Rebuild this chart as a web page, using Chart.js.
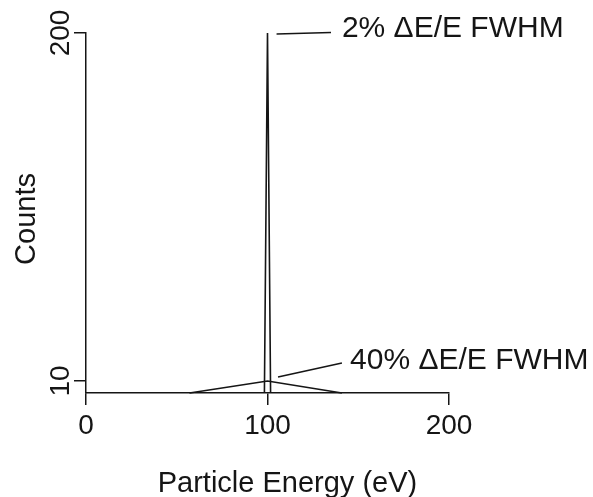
<!DOCTYPE html>
<html>
<head>
<meta charset="utf-8">
<script src="https://cdn.jsdelivr.net/npm/chart.js@4"></script>
<style>
  html, body { margin: 0; padding: 0; background: #fff; }
  canvas { display: block; }
</style>
</head>
<body>
<canvas id="chart" width="593" height="497"></canvas>
<script>
// energy axis (eV) and counts for the two peaks
const narrowEnergy = [98.3, 100, 101.7];
const narrowCounts = [3.45, 200, 3.45];
const broadEnergy = [57, 100, 141];
const broadCounts = [3.45, 10, 3.45];

const xTicks = [0, 100, 200];
const yTicks = [10, 200];

const xTitle = "Particle Energy (eV)";
const yTitle = "Counts";

// annotation labels with leader lines, in data units
const notes = [
  { text: "2% \u0394E/E FWHM", x: 141, y: 197.8, from: [105, 199.5], to: [135, 200.3] },
  { text: "40% \u0394E/E FWHM", x: 145.5, y: 16.5, from: [105.8, 12.2], to: [141, 19.8] },
];

const ink = "#151515";
const font = "'Liberation Sans', Arial, sans-serif";

const toPoints = (xs, ys) => xs.map((x, i) => ({ x: x, y: ys[i] }));

const textPlugin = {
  id: "textPlugin",
  afterDraw(chart) {
    const ctx = chart.ctx;
    const xs = chart.scales.x;
    const ys = chart.scales.y;
    ctx.save();
    ctx.fillStyle = ink;
    ctx.strokeStyle = ink;

    // rotated y tick labels
    ctx.font = `28px ${font}`;
    ctx.textAlign = "center";
    ctx.textBaseline = "alphabetic";
    yTicks.forEach((v) => {
      ctx.save();
      ctx.translate(69, ys.getPixelForValue(v));
      ctx.rotate(-Math.PI / 2);
      ctx.fillText(String(v), 0, 0);
      ctx.restore();
    });

    // axis titles
    ctx.font = `29px ${font}`;
    ctx.fillText(xTitle, xs.getPixelForValue(111), 492);
    ctx.save();
    ctx.translate(35, 219);
    ctx.rotate(-Math.PI / 2);
    ctx.fillText(yTitle, 0, 0);
    ctx.restore();

    // annotations
    ctx.font = `30px ${font}`;
    ctx.textAlign = "left";
    ctx.lineWidth = 1.5;
    notes.forEach((n) => {
      ctx.beginPath();
      ctx.moveTo(xs.getPixelForValue(n.from[0]), ys.getPixelForValue(n.from[1]));
      ctx.lineTo(xs.getPixelForValue(n.to[0]), ys.getPixelForValue(n.to[1]));
      ctx.stroke();
      ctx.fillText(n.text, xs.getPixelForValue(n.x), ys.getPixelForValue(n.y));
    });
    ctx.restore();
  },
};

new Chart(document.getElementById("chart"), {
  type: "line",
  data: {
    datasets: [
      {
        label: "2%",
        data: toPoints(narrowEnergy, narrowCounts),
        borderColor: ink,
        borderWidth: 1.6,
        pointRadius: 0,
        tension: 0,
        clip: false,
      },
      {
        label: "40%",
        data: toPoints(broadEnergy, broadCounts),
        borderColor: ink,
        borderWidth: 1.6,
        pointRadius: 0,
        tension: 0,
        clip: false,
      },
    ],
  },
  options: {
    responsive: false,
    animation: false,
    layout: { padding: { left: 0, right: 144, top: 33, bottom: 0 } },
    plugins: {
      legend: { display: false },
      tooltip: { enabled: false },
    },
    scales: {
      x: {
        type: "linear",
        min: 0,
        max: 200,
        afterFit: (s) => { s.height = 104; },
        afterBuildTicks: (s) => { s.ticks = xTicks.map((v) => ({ value: v })); },
        grid: { drawOnChartArea: false, drawTicks: true, tickLength: 12, color: ink, lineWidth: 1.5 },
        border: { display: true, color: ink, width: 1.5 },
        ticks: {
          color: ink,
          font: { family: font, size: 28 },
          padding: 4,
          maxRotation: 0,
        },
      },
      y: {
        type: "linear",
        min: 3.45,
        max: 200,
        afterFit: (s) => { s.width = 86; },
        afterBuildTicks: (s) => { s.ticks = yTicks.map((v) => ({ value: v })); },
        grid: { drawOnChartArea: false, drawTicks: true, tickLength: 12, color: ink, lineWidth: 1.5 },
        border: { display: true, color: ink, width: 1.5 },
        ticks: { display: false },
      },
    },
  },
  plugins: [textPlugin],
});
</script>
</body>
</html>
